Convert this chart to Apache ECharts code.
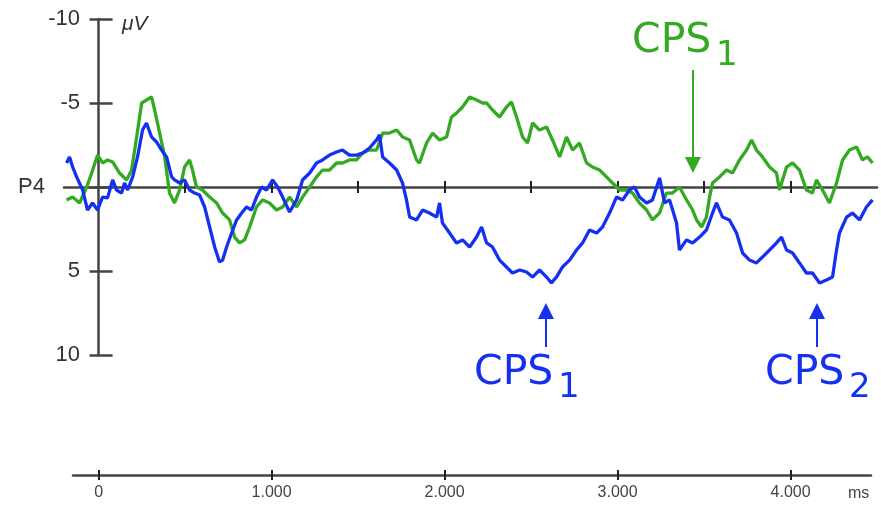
<!DOCTYPE html>
<html><head><meta charset="utf-8">
<script src="https://cdn.jsdelivr.net/npm/echarts@6/dist/echarts.min.js"></script>
<style>html,body{margin:0;padding:0;background:#fff}#c{width:881px;height:506px}</style>
</head><body><div id="c"></div>
<script>
// ---- data (ms, µV) ----
const blueT = [-185,-168,-150,-127,-92,-64,-35,-6,23,52,81,104,133,150,168,197,225,254,277,306,335,364,393,422,439,468,497,526,555,584,613,642,671,699,717,740,769,798,827,855,884,913,942,971,1006,1035,1064,1104,1145,1179,1220,1260,1295,1335,1376,1410,1451,1491,1526,1566,1607,1624,1642,1682,1723,1757,1780,1798,1838,1873,1913,1954,1971,1988,2029,2069,2104,2145,2185,2214,2243,2277,2318,2358,2393,2434,2474,2509,2549,2590,2618,2647,2682,2723,2763,2798,2838,2879,2913,2954,2994,3029,3069,3098,3127,3168,3202,3243,3272,3301,3341,3358,3399,3434,3474,3514,3549,3572,3607,3647,3688,3723,3763,3803,3838,3879,3919,3948,3977,4012,4052,4092,4127,4168,4208,4243,4266,4283,4324,4358,4399,4439,4474];
const blueV = [-1.43,-1.79,-1.19,-0.60,0.18,1.37,0.95,1.37,0.60,0.65,-0.42,0.18,0.36,-0.24,0.18,-0.60,-1.79,-3.39,-3.81,-2.98,-2.68,-2.20,-1.79,-0.60,-0.42,-0.24,-0.42,0.18,0.36,0.48,1.19,2.38,3.57,4.46,4.35,3.57,2.74,1.96,1.55,1.19,1.37,0.60,0.00,0.18,-0.42,0.00,0.60,1.49,0.77,-0.42,-0.83,-1.43,-1.61,-1.90,-2.08,-2.20,-1.90,-1.90,-2.02,-2.32,-2.80,-3.10,-1.79,-1.43,-1.01,-0.24,0.77,1.79,1.96,1.37,1.55,1.79,0.95,2.14,2.74,3.33,3.15,3.57,2.98,2.38,3.33,3.57,4.35,4.76,5.12,4.94,5.06,5.36,4.94,5.36,5.71,5.36,4.76,4.35,3.75,3.33,2.56,2.74,2.38,1.55,0.60,0.77,0.18,0.00,0.60,0.95,0.77,-0.54,0.95,0.77,2.14,3.75,3.15,3.33,2.98,2.56,1.55,0.95,1.79,1.96,2.74,3.93,4.35,4.52,4.17,3.75,3.33,2.98,3.75,3.93,4.52,5.12,5.12,5.71,5.54,5.36,3.75,2.74,1.79,1.55,1.96,1.19,0.77];
const greenT = [-185,-150,-110,-69,-40,-6,23,52,81,121,162,191,220,249,277,306,324,353,382,410,439,468,497,526,543,566,601,642,682,717,757,786,815,844,873,913,948,988,1029,1064,1104,1145,1179,1220,1260,1295,1335,1376,1410,1451,1491,1526,1566,1607,1642,1682,1723,1757,1798,1838,1855,1896,1931,1971,2012,2040,2069,2104,2145,2185,2220,2243,2277,2318,2358,2387,2416,2451,2480,2509,2549,2590,2624,2665,2705,2740,2780,2821,2855,2896,2936,2971,3012,3052,3087,3127,3168,3202,3243,3283,3318,3358,3399,3434,3457,3486,3514,3532,3549,3590,3630,3665,3705,3746,3775,3803,3838,3879,3919,3936,3977,4012,4052,4092,4127,4150,4185,4225,4266,4301,4341,4382,4416,4445,4474];
const greenV = [0.77,0.60,0.95,0.00,-0.83,-1.90,-1.43,-1.61,-1.49,-0.83,-0.42,-1.01,-2.98,-5.00,-5.18,-5.36,-4.58,-3.21,-1.79,0.36,0.95,0.18,-1.19,-1.61,-1.01,0.00,0.18,0.60,0.95,1.55,1.96,2.98,3.33,3.15,2.38,1.19,0.77,0.95,1.37,1.19,0.60,1.19,0.60,0.00,-0.60,-1.01,-1.01,-1.43,-1.43,-1.61,-1.61,-2.02,-2.20,-2.20,-3.21,-3.21,-3.39,-2.98,-2.80,-1.61,-1.43,-2.62,-3.21,-2.80,-2.98,-4.17,-4.40,-4.76,-5.36,-5.18,-5.00,-5.00,-4.58,-4.17,-4.76,-5.06,-4.17,-2.98,-2.62,-3.81,-3.39,-3.57,-2.80,-1.79,-2.98,-2.20,-2.62,-1.43,-1.19,-1.01,-0.60,-0.24,0.18,0.18,0.36,0.95,1.37,1.96,1.55,0.36,0.36,0.00,0.77,1.37,1.96,2.38,1.79,0.60,-0.24,-0.60,-1.01,-0.83,-1.61,-2.20,-2.80,-2.20,-1.79,-1.19,-0.83,0.18,-1.19,-1.43,-1.01,0.18,0.36,-0.42,0.18,0.95,-0.24,-1.61,-2.20,-2.38,-1.61,-1.79,-1.43];

// axis ticks / labels
const yTickValues = [-10, -5, 0, 5, 10];
const yTickLabels = ['-10', '-5', 'P4', '5', '10'];
const zeroLineTicks = [500, 1000, 1500, 2000, 2500, 3000, 3500, 4000];
const xTickValues = [0, 1000, 2000, 3000, 4000];
const xTickLabels = ['0', '1.000', '2.000', '3.000', '4.000'];

// annotation arrows: [time, tail µV, head µV]
const blueArrows = [[2586, 9.52, 7.38], [4153, 9.52, 7.38]];
const greenArrows = [[3436, -6.96, -1.31]];

const BLUE = '#1530ee';
const GREEN = '#33aa22';
const AX = '#444';
const FONT = '"Liberation Sans", Arial, sans-serif';

const chart = echarts.init(document.getElementById('c'), null, {renderer: 'canvas'});

function arrowLines(list) {
  return list.map(a => [{coord: [a[0], a[1]]}, {coord: [a[0], a[2]]}]);
}

const option = {
  animation: false,
  backgroundColor: '#fff',
  grid: [
    {left: 64, top: 19, width: 813, height: 336, containLabel: false, outerBoundsMode: 'none'},
    {left: 73, top: 465, width: 798, height: 10, containLabel: false, outerBoundsMode: 'none'}
  ],
  xAxis: [
    {gridIndex: 0, type: 'value', min: -200, max: 4500, position: 'bottom',
     axisLine: {onZero: true, lineStyle: {color: AX, width: 2.5}},
     axisTick: {show: true, customValues: zeroLineTicks, length: 6, lineStyle: {color: '#222', width: 2}},
     axisLabel: {show: false}, splitLine: {show: false}},
    {gridIndex: 0, type: 'value', min: -200, max: 4500, position: 'bottom',
     axisLine: {show: false, onZero: true},
     axisTick: {show: true, inside: true, customValues: zeroLineTicks, length: 6, lineStyle: {color: '#222', width: 2}},
     axisLabel: {show: false}, splitLine: {show: false}},
    {gridIndex: 1, type: 'value', min: -148, max: 4465, position: 'bottom',
     axisLine: {onZero: false, lineStyle: {color: AX, width: 2.5}},
     axisTick: {show: true, customValues: xTickValues, length: 5, lineStyle: {color: '#222', width: 2}},
     axisLabel: {show: true, customValues: xTickValues, margin: 10, fontSize: 16, color: AX, fontFamily: FONT,
       formatter: v => xTickLabels[xTickValues.indexOf(v)]},
     splitLine: {show: false}},
    {gridIndex: 1, type: 'value', min: -148, max: 4465, position: 'bottom',
     axisLine: {show: false, onZero: false},
     axisTick: {show: true, inside: true, customValues: xTickValues, length: 5, lineStyle: {color: '#222', width: 2}},
     axisLabel: {show: false}, splitLine: {show: false}}
  ],
  yAxis: [
    {gridIndex: 0, type: 'value', min: -10, max: 10, interval: 5, inverse: true, position: 'left',
     axisLine: {show: true, onZero: true, lineStyle: {color: AX, width: 2.5}},
     axisTick: {show: true, inside: true, length: 14, lineStyle: {color: AX, width: 2.5}},
     axisLabel: {margin: -16, fontSize: 22, color: '#333', fontFamily: FONT,
       formatter: v => { const s = yTickLabels[yTickValues.indexOf(v)]; return v === 0 ? '{p|' + s + '}' : s; },
       rich: {p: {padding: [0, 35, 0, 0], fontSize: 22, color: '#333', fontFamily: FONT}}},
     splitLine: {show: false}},
    {gridIndex: 0, type: 'value', min: -10, max: 10, interval: 5, inverse: true, position: 'left',
     axisLine: {show: false, onZero: true},
     axisTick: {show: true, length: 9, lineStyle: {color: AX, width: 2.5}},
     axisLabel: {show: false}, splitLine: {show: false}},
    {gridIndex: 1, type: 'value', min: 0, max: 1, show: false}
  ],
  series: [
    {type: 'line', name: 'green', xAxisIndex: 0, yAxisIndex: 0, showSymbol: false, symbol: 'none',
     lineStyle: {color: GREEN, width: 3.3}, itemStyle: {color: GREEN},
     data: greenT.map((t, i) => [t, greenV[i]]),
     markLine: {silent: true, symbol: ['none', 'triangle'], symbolSize: 16, label: {show: false},
       lineStyle: {color: GREEN, width: 2, type: 'solid'}, data: arrowLines(greenArrows)}},
    {type: 'line', name: 'blue', xAxisIndex: 0, yAxisIndex: 0, showSymbol: false, symbol: 'none',
     lineStyle: {color: BLUE, width: 3.3}, itemStyle: {color: BLUE},
     data: blueT.map((t, i) => [t, blueV[i]]),
     markLine: {silent: true, symbol: ['none', 'triangle'], symbolSize: 16, label: {show: false},
       lineStyle: {color: BLUE, width: 2, type: 'solid'}, data: arrowLines(blueArrows)}}
  ],
  graphic: [
    {type: 'text', x: 122, y: 24, style: {text: 'μV', font: 'italic 21px "Liberation Sans", Arial, sans-serif', fill: '#333', align: 'left', verticalAlign: 'middle', textAlign: 'left', textVerticalAlign: 'middle'}},
    {type: 'text', x: 848, y: 494, style: {text: 'ms', font: '16px "Liberation Sans", Arial, sans-serif', fill: AX, align: 'left', verticalAlign: 'middle', textAlign: 'left', textVerticalAlign: 'middle'}},
    {type: 'text', x: 632, y: 41, style: {text: 'CPS', font: '41px "DejaVu Sans", Verdana, sans-serif', fill: GREEN, align: 'left', verticalAlign: 'middle', textAlign: 'left', textVerticalAlign: 'middle'}},
    {type: 'text', x: 716, y: 56, style: {text: '1', font: '34px "DejaVu Sans", Verdana, sans-serif', fill: GREEN, align: 'left', verticalAlign: 'middle', textAlign: 'left', textVerticalAlign: 'middle'}},
    {type: 'text', x: 474, y: 373, style: {text: 'CPS', font: '41px "DejaVu Sans", Verdana, sans-serif', fill: BLUE, align: 'left', verticalAlign: 'middle', textAlign: 'left', textVerticalAlign: 'middle'}},
    {type: 'text', x: 558, y: 388, style: {text: '1', font: '34px "DejaVu Sans", Verdana, sans-serif', fill: BLUE, align: 'left', verticalAlign: 'middle', textAlign: 'left', textVerticalAlign: 'middle'}},
    {type: 'text', x: 765, y: 373, style: {text: 'CPS', font: '41px "DejaVu Sans", Verdana, sans-serif', fill: BLUE, align: 'left', verticalAlign: 'middle', textAlign: 'left', textVerticalAlign: 'middle'}},
    {type: 'text', x: 849, y: 388, style: {text: '2', font: '34px "DejaVu Sans", Verdana, sans-serif', fill: BLUE, align: 'left', verticalAlign: 'middle', textAlign: 'left', textVerticalAlign: 'middle'}}
  ]
};
chart.setOption(option);
</script></body></html>
